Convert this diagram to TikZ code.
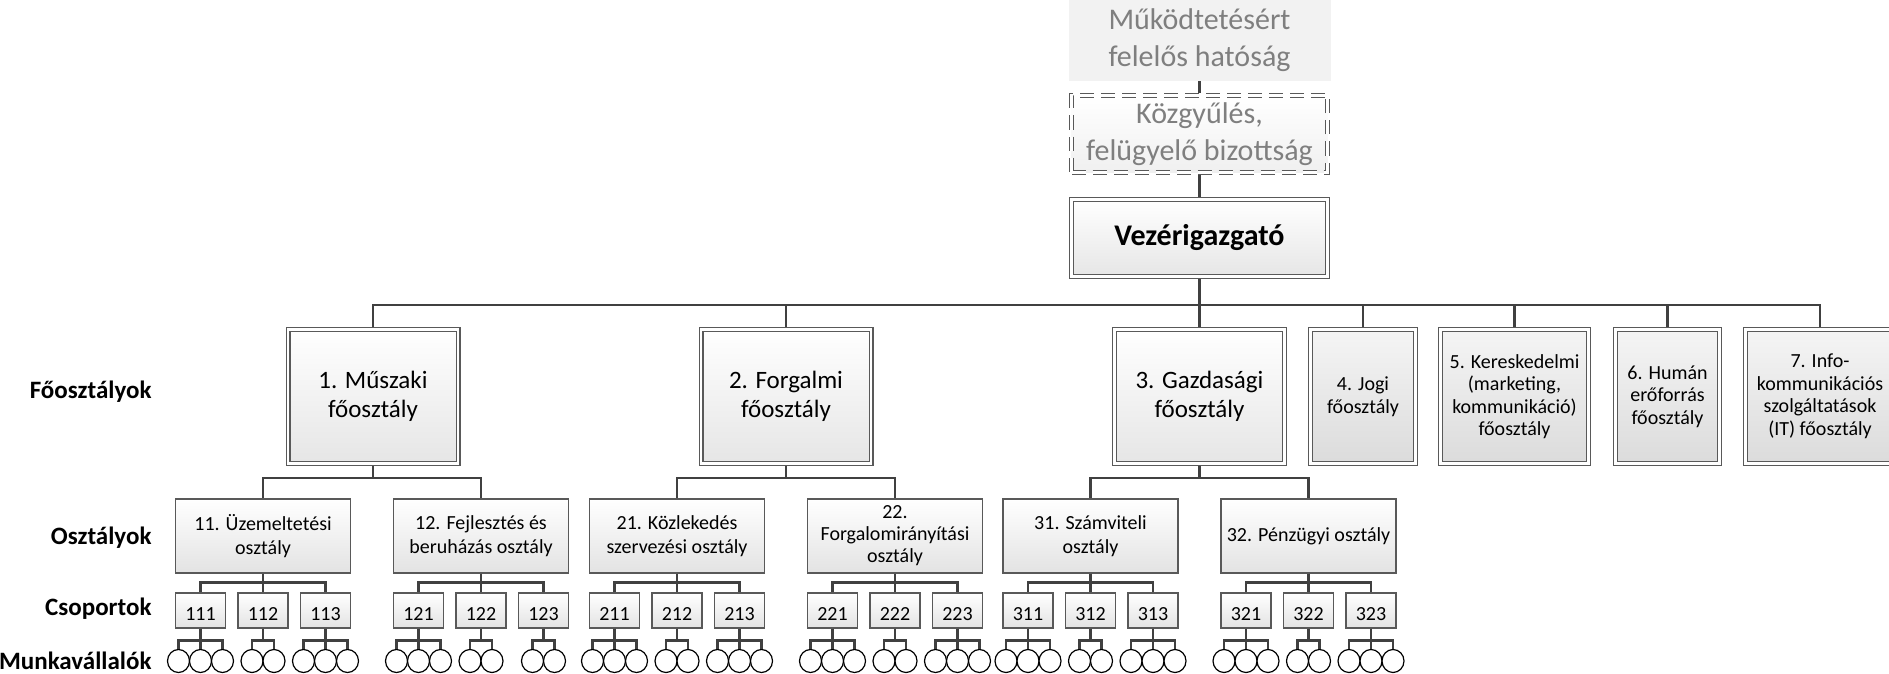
\documentclass[tikz,border=0pt]{standalone}
\usepackage{fontspec}
\setmainfont{Carlito}
\usepackage{xcolor}
\usetikzlibrary{shapes.geometric}

\definecolor{vonal}{HTML}{404040}
\definecolor{keret}{HTML}{595959}
\definecolor{halvany}{HTML}{7F7F7F}
\definecolor{hatter}{HTML}{F2F2F2}

\tikzset{
  conn/.style={vonal, line width=2.4pt},
  dupla/.style={draw=keret, line width=1.3pt, double=white, double distance=2.4pt, outer sep=2.5pt},
  fobox/.style={dupla, top color=white, bottom color=gray!20, minimum width=170pt, minimum height=134pt, align=center, font=\fontsize{25}{29}\selectfont},
  kisbox/.style={dupla, top color=gray!8, bottom color=gray!28, minimum height=134pt, align=center, inner sep=1pt, font=\fontsize{20}{22.5}\selectfont},
  obox/.style={draw=keret, line width=1.3pt, top color=white, bottom color=gray!22, minimum width=175pt, minimum height=74pt, align=center, inner sep=1pt, font=\fontsize{20}{24.5}\selectfont},
  grp/.style={draw=keret, line width=1.3pt, top color=white, bottom color=gray!22, minimum width=50pt, minimum height=35pt, inner sep=0pt, text height=20pt, text depth=0pt, font=\fontsize{20}{24}\selectfont},
  emp/.style={ellipse, draw=black, line width=1.2pt, fill=white, minimum width=22pt, minimum height=23pt, inner sep=0pt},
  szint/.style={anchor=east, font=\bfseries\fontsize{25}{30}\selectfont},
}

\begin{document}
\begin{tikzpicture}[x=1pt, y=-1pt]
        \useasboundingbox (0,0) rectangle (1889,674);

        %VEZETES
        \node[fill=hatter, text=halvany, minimum width=262pt, minimum height=82pt, align=center, font=\fontsize{30}{37}\selectfont] (hatosag) at (1199.5,40) {Működtetésért\\felelős hatóság};
        \node[dupla, dash pattern=on 14pt off 7pt, top color=white, bottom color=gray!12, text=halvany, minimum width=256pt, minimum height=77pt, align=center, font=\fontsize{30}{37}\selectfont] (kozgyules) at (1199.5,134) {Közgyűlés,\\felügyelő bizottság};
        \node[dupla, top color=white, bottom color=gray!20, minimum width=256pt, minimum height=77pt, font=\bfseries\fontsize{30}{36}\selectfont] (vez) at (1199.5,238) {Vezérigazgató};
        \draw[conn] (hatosag.south) -- (kozgyules.north);
        \draw[conn] (kozgyules.south) -- (vez.north);

        %FOOSZTALYOK
        \node[fobox] (f1) at (373,396.5) {1. Műszaki\\főosztály};
        \node[fobox] (f2) at (786,396.5) {2. Forgalmi\\főosztály};
        \node[fobox] (f3) at (1199.5,396.5) {3. Gazdasági\\főosztály};
        \node[kisbox, minimum width=105pt] (f4) at (1363,396.5) {4. Jogi\\főosztály};
        \node[kisbox, minimum width=148pt] (f5) at (1514.5,396.5) {5. Kereskedelmi\\(marketing,\\kommunikáció)\\főosztály};
        \node[kisbox, minimum width=104pt] (f6) at (1667.5,396.5) {6. Humán\\erőforrás\\főosztály};
        \node[kisbox, minimum width=149pt] (f7) at (1820,396.5) {7. Info-\\kommunikációs\\szolgáltatások\\(IT) főosztály};
        \foreach \f in {1,...,7}
            \draw[conn] (vez.south) -- ++(0,26) -| (f\f.north);

        %OSZTALYOK
        \node[obox] (o11) at (263,536) {11. Üzemeltetési\\osztály};
        \node[obox] (o12) at (481,536) {12. Fejlesztés és\\beruházás osztály};
        \node[obox] (o21) at (677,536) {21. Közlekedés\\szervezési osztály};
        \node[obox, font=\fontsize{20}{22}\selectfont] (o22) at (895,536) {22.\\Forgalomirányítási\\osztály};
        \node[obox] (o31) at (1090.5,536) {31. Számviteli\\osztály};
        \node[obox] (o32) at (1308.5,536) {32. Pénzügyi osztály};
        \draw[conn] (f1.south) -- ++(0,12) -| (o11.north);
        \draw[conn] (f1.south) -- ++(0,12) -| (o12.north);
        \draw[conn] (f2.south) -- ++(0,12) -| (o21.north);
        \draw[conn] (f2.south) -- ++(0,12) -| (o22.north);
        \draw[conn] (f3.south) -- ++(0,12) -| (o31.north);
        \draw[conn] (f3.south) -- ++(0,12) -| (o32.north);

        %CSOPORTOK ES MUNKAVALLALOK
        \foreach \o/\x/\na/\nb/\nc in {11/263/3/2/3, 12/481/3/2/2, 21/677/3/2/3, 22/895/3/2/3, 31/1090.5/3/2/3, 32/1308.5/3/2/3}{
            \foreach \g/\dx/\n in {1/-62.5/\na, 2/0/\nb, 3/62.5/\nc}{
                \node[grp] (g\o\g) at (\x+\dx,610.5) {\o\g};
                \draw[conn] (o\o.south) -- ++(0,9) -| (g\o\g.north);
                \ifnum\n=3 \def\lista{-22,0,22}\else\def\lista{-11,11}\fi
                \foreach \e [count=\k] in \lista{
                    \node[emp] (m\o\g\k) at (\x+\dx+\e,661) {};
                    \draw[conn] (g\o\g.south) -- ++(0,12) -| (m\o\g\k.north);
                }
            }
        }

        %CIMKEK
        \node[szint] (lfo) at (155,392) {Főosztályok};
        \node[szint] (losz) at (155,538) {Osztályok};
        \node[szint] (lcs) at (155,609) {Csoportok};
        \node[szint] (lmv) at (155,661) {Munkavállalók};
\end{tikzpicture}
\end{document}
